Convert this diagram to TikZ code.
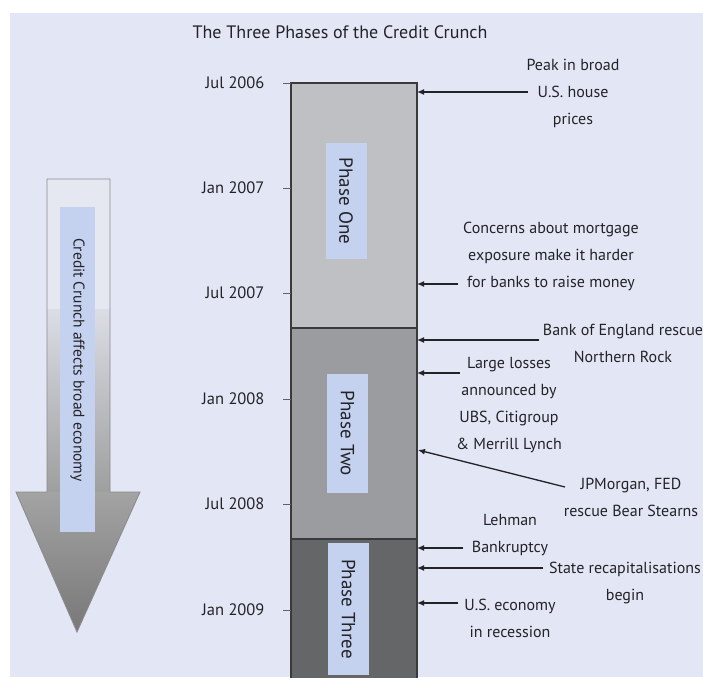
\documentclass[tikz,border=0pt]{standalone}
\usepackage{fontspec}
\setmainfont{PT Sans}
\usetikzlibrary{arrows.meta}
\definecolor{bg}{HTML}{E3E6F5}
\definecolor{lbl}{HTML}{C4D1EF}
\definecolor{ph1}{HTML}{BFC0C3}
\definecolor{ph2}{HTML}{9B9C9F}
\definecolor{ph3}{HTML}{656668}
\definecolor{ink}{HTML}{232327}
\definecolor{edge}{HTML}{3A3A3C}
\definecolor{shaftlight}{HTML}{E6E8F1}
\begin{document}
\begin{tikzpicture}[x=1pt,y=-1pt,
  phase/.style={draw=edge,line width=1.6pt,minimum width=126pt,anchor=north west,inner sep=0pt,outer sep=0pt},
  plabel/.style={fill=lbl,rotate=-90,inner sep=0pt,minimum height=41pt,text=ink,font=\fontsize{19}{22}\selectfont},
  datelbl/.style={anchor=east,text=ink,font=\fontsize{16.5}{18}\selectfont},
  tickmark/.style={draw=edge!80,line width=0.8pt},
  note/.style={align=center,text=ink,font=\fontsize{16}{27}\selectfont,inner sep=0pt},
  arr/.style={draw=ink,line width=1.3pt,-{Latex[length=7pt,width=6pt]}}
]
\useasboundingbox (0,0) rectangle (703,677);
\fill[white] (0,0) rectangle (703,677);
\fill[bg] (10,13) rectangle (703,677);

% title
\node[text=ink,font=\fontsize{18}{20}\selectfont] (title) at (340,32) {The Three Phases of the Credit Crunch};

% left arrow
\begin{scope}
\clip (47,179) -- (110,179) -- (110,492) -- (140,492) -- (77,632) -- (16,492) -- (47,492) -- cycle;
\fill[shaftlight] (0,170) rectangle (150,310);
\shade[top color=shaftlight!90!gray, bottom color=black!38] (0,309) rectangle (150,493);
\shade[top color=black!36, bottom color=black!54] (0,492) rectangle (150,640);
\end{scope}
\draw[draw=black!45,line width=0.9pt,line join=miter] (47,179) -- (110,179) -- (110,492) -- (140,492) -- (77,632) -- (16,492) -- (47,492) -- cycle;
\node[fill=lbl,inner sep=0pt,minimum width=35pt,minimum height=325pt] (ccbox) at (77.5,369.5) {};
\node[rotate=-90,text=ink,font=\fontsize{15.5}{18}\selectfont] (cctext) at (77.5,360) {Credit Crunch affects broad economy};

% phases
\node[phase,fill=ph1,minimum height=245pt] (p1) at (291,83) {};
\node[phase,fill=ph2,minimum height=211pt] (p2) at (291,328) {};
\node[phase,fill=ph3,minimum height=145pt] (p3) at (291,539) {};
\node[plabel,minimum width=116pt] (l1) at (346,201) {Phase One};
\node[plabel,minimum width=119pt] (l2) at (347.5,433.5) {Phase Two};
\node[plabel,minimum width=132pt] (l3) at (348.5,609) {Phase Three};

% dates
\foreach \y/\t/\n in {83/Jul 2006/d1,188/Jan 2007/d2,293/Jul 2007/d3,399/Jan 2008/d4,504/Jul 2008/d5,610/Jan 2009/d6}{
  \node[datelbl] (\n) at (268,\y) {\t};
  \draw[tickmark] (283,\y) -- (291,\y);
}

% notes
\node[note] (n1) at (573,93) {Peak in broad\\U.S. house\\prices};
\node[note] (n2) at (551,256) {Concerns about mortgage\\exposure make it harder\\for banks to raise money};
\node[note] (n3) at (623,343) {Bank of England rescue\\Northern Rock};
\node[note] (n4) at (509,405) {Large losses\\announced by\\UBS, Citigroup\\\& Merrill Lynch};
\node[note] (n5) at (631,497) {JPMorgan, FED\\rescue Bear Stearns};
\node[note] (n6) at (510,535) {Lehman\\Bankruptcy};
\node[note] (n7) at (625,583) {State recapitalisations\\begin};
\node[note] (n8) at (510,618) {U.S. economy\\in recession};

% arrows
\coordinate (s1) at (528,92);
\coordinate (s2) at (458,284);
\coordinate (s3) at (539,340);
\coordinate (s4) at (460,373);
\coordinate (s5) at (565,487);
\coordinate (e5) at (418,450);
\coordinate (s6) at (463,548);
\coordinate (s7) at (543,568);
\coordinate (s8) at (458,603);
\draw[arr] (s1) -- (p1.east |- s1);
\draw[arr] (s2) -- (p1.east |- s2);
\draw[arr] (s3) -- (p2.east |- s3);
\draw[arr] (s4) -- (p2.east |- s4);
\draw[arr] (s5) -- (e5);
\draw[arr] (s6) -- (p3.east |- s6);
\draw[arr] (s7) -- (p3.east |- s7);
\draw[arr] (s8) -- (p3.east |- s8);
\end{tikzpicture}
\end{document}
